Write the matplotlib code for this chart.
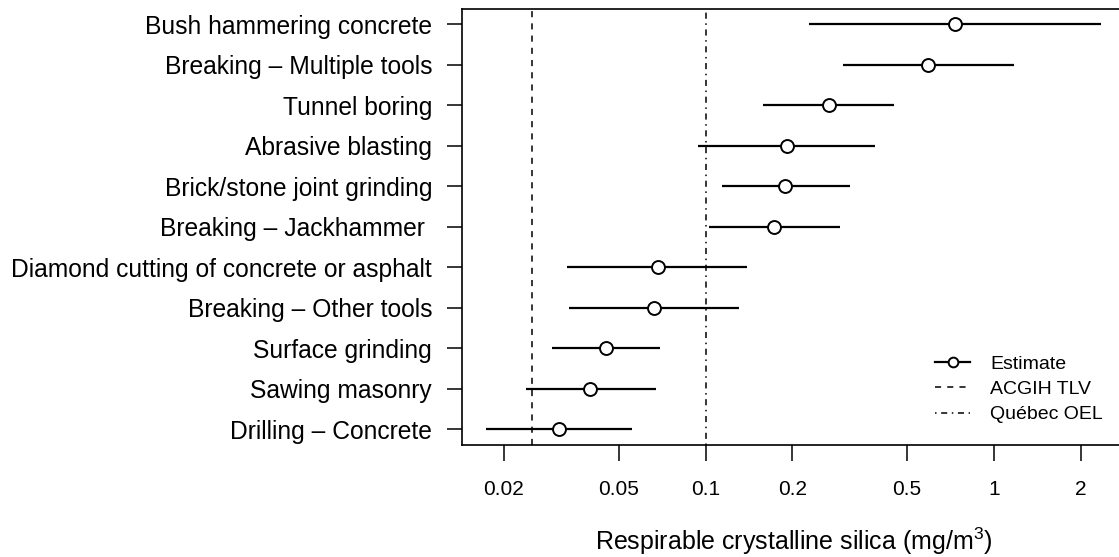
import numpy as np
import matplotlib
matplotlib.use("Agg")
import matplotlib.pyplot as plt
from matplotlib.lines import Line2D

plt.rcParams['font.family'] = ['Liberation Sans', 'DejaVu Sans']
plt.rcParams['mathtext.fontset'] = 'custom'
plt.rcParams['mathtext.rm'] = 'Liberation Sans'
plt.rcParams['mathtext.it'] = 'Liberation Sans'

# -----------------------------
# data (top row first)
# -----------------------------
tasks = [
    "Bush hammering concrete",
    "Breaking \u2013 Multiple tools",
    "Tunnel boring",
    "Abrasive blasting",
    "Brick/stone joint grinding",
    "Breaking \u2013 Jackhammer ",
    "Diamond cutting of concrete or asphalt",
    "Breaking \u2013 Other tools",
    "Surface grinding",
    "Sawing masonry",
    "Drilling \u2013 Concrete",
]
estimate = [0.73, 0.59, 0.268, 0.191, 0.189, 0.173, 0.0684, 0.0663, 0.0452, 0.0399, 0.0311]
lower = [0.228, 0.300, 0.158, 0.094, 0.114, 0.103, 0.0332, 0.0337, 0.0294, 0.0238, 0.0174]
upper = [2.35, 1.17, 0.449, 0.386, 0.317, 0.292, 0.139, 0.131, 0.0696, 0.0672, 0.0554]

acgih_tlv = 0.025
quebec_oel = 0.1

xticks = [0.02, 0.05, 0.1, 0.2, 0.5, 1, 2]
xticklabels = ["0.02", "0.05", "0.1", "0.2", "0.5", "1", "2"]

# -----------------------------
# plot
# -----------------------------
W, H = 1119, 557
fig = plt.figure(figsize=(W / 100, H / 100), dpi=100)
ax = fig.add_axes([461.5 / W, 1 - 444.5 / H, 663.7 / W, (444.5 - 9.3) / H])

n = len(tasks)
ypos = np.arange(n, 0, -1)

ax.hlines(ypos, lower, upper, color="black", lw=1.6, zorder=2)
ax.plot(estimate, ypos, "o", ms=9.3, mfc="white", mec="black", mew=1.4,
        ls="none", zorder=3)

ax.axvline(acgih_tlv, color="black", lw=1.1, dashes=(4, 4), zorder=1)
ax.axvline(quebec_oel, color="black", lw=1.1, dashes=(1, 3, 4, 3), zorder=1)

ax.set_xscale("log")
ax.set_xlim(0.01426, 2.85)
ax.set_ylim(0.625, 11.363)

ax.set_xticks(xticks)
ax.set_xticklabels(xticklabels)
ax.xaxis.set_minor_locator(matplotlib.ticker.NullLocator())
ax.set_yticks(ypos)
ax.set_yticklabels(tasks)

ax.tick_params(axis="y", length=10.8, width=1.1, pad=10.4, labelsize=17.7)
ax.tick_params(axis="x", length=11.2, width=1.1, pad=14.5, labelsize=15)
for s in ax.spines.values():
    s.set_linewidth(1.2)

ax.set_xlabel(r"Respirable crystalline silica (mg/m$^3$)", fontsize=18, labelpad=19)

handles = [
    Line2D([], [], color="black", lw=1.6, marker="o", ms=7, mfc="white", mew=1.4),
    Line2D([], [], color="black", lw=1.1, dashes=(4, 4)),
    Line2D([], [], color="black", lw=1.1, dashes=(1, 3, 4, 3)),
]
ax.legend(handles, ["Estimate", "ACGIH TLV", "Qu\u00e9bec OEL"],
          loc="upper left", bbox_to_anchor=(935 / W, 1 - 355 / H),
          bbox_transform=fig.transFigure, frameon=False, fontsize=14,
          handlelength=1.8, handletextpad=1.05, labelspacing=0.4,
          borderpad=0, borderaxespad=0)

fig.savefig("out.png", dpi=100)
